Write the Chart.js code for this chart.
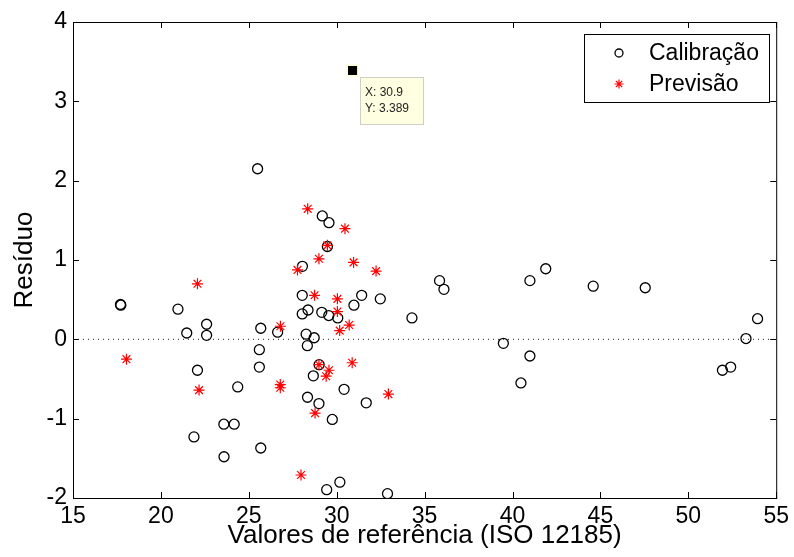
<!DOCTYPE html>
<html>
<head>
<meta charset="utf-8">
<script src="https://cdn.jsdelivr.net/npm/chart.js@4.4.1/dist/chart.umd.min.js"></script>
<style>
  body { margin: 0; background: #fff; }
  canvas { display: block; }
</style>
</head>
<body>
<canvas id="residuos" width="794" height="557"></canvas>
<script>
// calibration residues (open circles)
const calX = [17.70, 17.72, 20.97, 21.47, 22.60, 22.60, 22.08, 21.88, 23.58, 24.17,
  23.59, 24.37, 25.50, 25.68, 25.60, 25.60, 25.68, 26.64, 28.05, 28.04,
  28.04, 28.37, 28.26, 28.33, 28.72, 29.15, 29.55, 30.06, 30.98, 31.42,
  32.48, 29.18, 29.56, 29.47, 28.67, 29.00, 28.34, 28.99, 30.42, 29.75,
  31.68, 29.43, 30.18, 32.89, 34.28, 35.85, 36.10, 39.48, 40.99, 40.99,
  40.48, 41.89, 44.59, 47.55, 51.94, 52.41, 53.28, 53.94];
const calY = [0.44, 0.43, 0.38, 0.08, 0.19, 0.05, -0.39, -1.23, -1.07, -1.07,
  -1.48, -0.60, 2.15, 0.14, -0.13, -0.35, -1.37, 0.09, 0.92, 0.555,
  0.32, 0.37, 0.065, -0.08, 0.02, 0.34, 0.30, 0.27, 0.43, 0.555,
  0.51, 1.555, 1.47, 1.17, -0.46, -0.32, -0.73, -0.81, -0.63, -1.01,
  -0.80, -1.895, -1.80, -1.945, 0.27, 0.74, 0.63, -0.05, 0.74, -0.21,
  -0.55, 0.89, 0.67, 0.65, -0.39, -0.35, 0.01, 0.26];

// prediction residues (red asterisks)
const prevX = [18.04, 22.08, 22.17, 26.80, 26.79, 26.79, 28.74, 30.04, 30.04, 30.71,
  30.17, 28.99, 29.56, 29.40, 30.88, 28.77, 32.94, 27.97, 28.35, 30.47,
  29.47, 28.99, 27.77, 30.96, 32.24];
const prevY = [-0.25, 0.70, -0.64, 0.165, -0.57, -0.61, 0.555, 0.51, 0.35, 0.18,
  0.11, -0.32, -0.39, -0.465, -0.295, -0.93, -0.69, -1.71, 1.645, 1.395,
  1.185, 1.015, 0.875, 0.97, 0.86];

// data cursor point
const tipX = [30.9];
const tipY = [3.389];

const xTicks = [15, 20, 25, 30, 35, 40, 45, 50, 55];
const yTicks = [-2, -1, 0, 1, 2, 3, 4];

const FONT = '"Liberation Sans", Arial, sans-serif';

function pts(xs, ys) {
  return xs.map((x, i) => ({ x: x, y: ys[i] }));
}

// axes box with inward ticks on all four sides
const boxPlugin = {
  id: 'box',
  beforeDatasetsDraw(chart) {
    const { ctx, chartArea: a, scales } = chart;
    ctx.save();
    ctx.strokeStyle = '#000';
    ctx.lineWidth = 1;
    ctx.strokeRect(a.left + 0.5, a.top + 0.5, a.right - a.left, a.bottom - a.top);
    ctx.beginPath();
    xTicks.forEach(v => {
      const px = Math.round(scales.x.getPixelForValue(v)) + 0.5;
      ctx.moveTo(px, a.bottom); ctx.lineTo(px, a.bottom - 6);
      ctx.moveTo(px, a.top); ctx.lineTo(px, a.top + 6);
    });
    yTicks.forEach(v => {
      const py = Math.round(scales.y.getPixelForValue(v)) + 0.5;
      ctx.moveTo(a.left, py); ctx.lineTo(a.left + 6, py);
      ctx.moveTo(a.right, py); ctx.lineTo(a.right - 6, py);
    });
    ctx.stroke();
    ctx.restore();
  }
};

// legend box in the upper right corner + data tip label
const overlayPlugin = {
  id: 'overlay',
  afterDraw(chart) {
    const ctx = chart.ctx;
    ctx.save();

    // legend
    const lx = 584, ly = 34, lw = 185, lh = 68;
    ctx.fillStyle = '#fff';
    ctx.fillRect(lx, ly, lw, lh);
    ctx.strokeStyle = '#000';
    ctx.lineWidth = 1;
    ctx.strokeRect(lx + 0.5, ly + 0.5, lw, lh);
    const items = [chart.data.datasets[0], chart.data.datasets[1]];
    items.forEach((ds, i) => {
      const cy = ly + 19 + i * 31;
      ctx.strokeStyle = ds.borderColor;
      ctx.fillStyle = 'rgba(0,0,0,0)';
      ctx.lineWidth = ds.borderWidth;
      Chart.helpers.drawPoint(ctx, {
        pointStyle: ds.pointStyle,
        radius: i === 0 ? 4 : 4.5,
        rotation: 0,
        borderWidth: ds.borderWidth
      }, 619, cy);
      ctx.fillStyle = '#000';
      ctx.font = '23px ' + FONT;
      ctx.textBaseline = 'middle';
      ctx.textAlign = 'left';
      ctx.fillText(ds.label, 649, cy + 1);
    });

    // data tip label next to the cursor point
    const meta = chart.getDatasetMeta(2);
    const p = meta.data[0];
    const bx = Math.round(p.x) + 7, by = Math.round(p.y) + 7;
    ctx.fillStyle = '#ffffe1';
    ctx.fillRect(bx, by, 63, 47);
    ctx.strokeStyle = '#cfcfc4';
    ctx.lineWidth = 1;
    ctx.strokeRect(bx + 0.5, by + 0.5, 63, 47);
    ctx.fillStyle = '#222';
    ctx.font = '12px ' + FONT;
    ctx.textBaseline = 'alphabetic';
    ctx.fillText('X: ' + tipX[0], bx + 5, by + 19);
    ctx.fillText('Y: ' + tipY[0], bx + 5, by + 35);

    ctx.restore();
  }
};

new Chart(document.getElementById('residuos'), {
  type: 'scatter',
  data: {
    datasets: [
      {
        label: 'Calibração',
        data: pts(calX, calY),
        pointStyle: 'circle',
        pointRadius: 5,
        backgroundColor: 'rgba(0,0,0,0)',
        borderColor: '#000',
        borderWidth: 1.3,
        order: 2
      },
      {
        label: 'Previsão',
        data: pts(prevX, prevY),
        pointStyle: 'star',
        pointRadius: 5.5,
        backgroundColor: '#ff0000',
        borderColor: '#ff0000',
        borderWidth: 1.2,
        order: 1
      },
      {
        label: 'cursor',
        data: pts(tipX, tipY),
        pointStyle: 'rect',
        pointRadius: 7.5,
        backgroundColor: '#000',
        borderColor: '#ffffd0',
        borderWidth: 1.5,
        order: 0
      },
      {
        label: 'zero',
        type: 'line',
        data: [{ x: xTicks[0], y: 0 }, { x: xTicks[xTicks.length - 1], y: 0 }],
        borderColor: '#222',
        borderWidth: 1,
        borderDash: [1, 4],
        pointRadius: 0,
        fill: false,
        order: 3
      }
    ]
  },
  options: {
    responsive: false,
    animation: false,
    events: [],
    layout: { padding: { top: 22, right: 15, left: 0, bottom: 0 } },
    plugins: {
      legend: { display: false },
      tooltip: { enabled: false }
    },
    scales: {
      x: {
        type: 'linear',
        min: xTicks[0],
        max: xTicks[xTicks.length - 1],
        afterFit: s => { s.height = 59; },
        afterBuildTicks: s => { s.ticks = xTicks.map(v => ({ value: v })); },
        grid: { display: false, drawTicks: false },
        border: { display: false },
        ticks: { color: '#000', font: { size: 23, family: FONT }, padding: 5, maxRotation: 0, autoSkip: false },
        title: {
          display: true,
          text: 'Valores de referência (ISO 12185)',
          color: '#000',
          font: { size: 26, family: FONT },
          padding: { top: 0, bottom: 6 }
        }
      },
      y: {
        type: 'linear',
        min: yTicks[0],
        max: yTicks[yTicks.length - 1],
        afterFit: s => { s.width = 73; },
        afterBuildTicks: s => { s.ticks = yTicks.map(v => ({ value: v })); },
        grid: { display: false, drawTicks: false },
        border: { display: false },
        ticks: { color: '#000', font: { size: 23, family: FONT }, padding: 6 },
        title: {
          display: true,
          text: 'Resíduo',
          color: '#000',
          font: { size: 26, family: FONT },
          padding: { top: 9, bottom: 0 }
        }
      }
    }
  },
  plugins: [boxPlugin, overlayPlugin]
});
</script>
</body>
</html>
